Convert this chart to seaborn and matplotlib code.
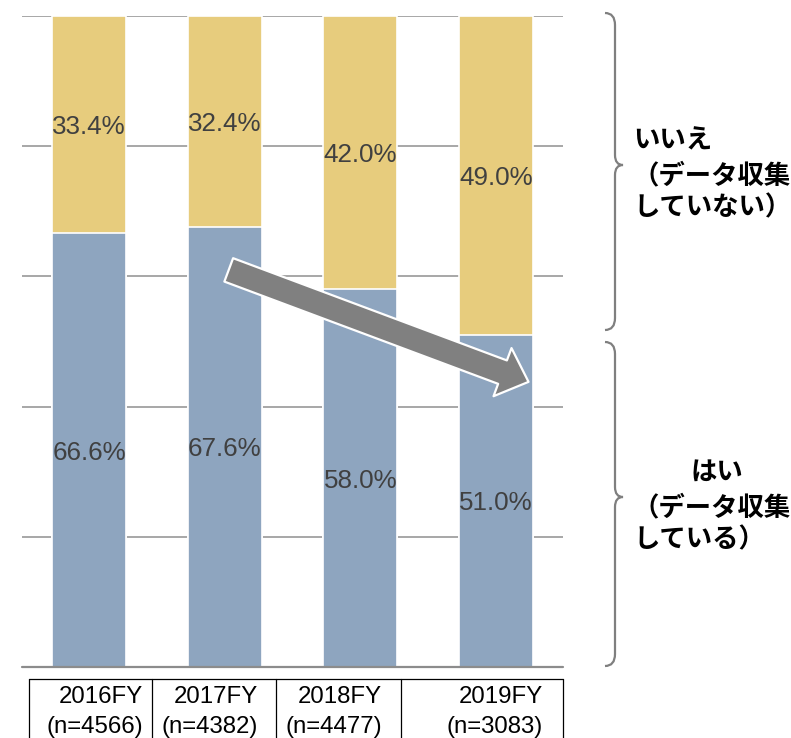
import matplotlib
matplotlib.use("Agg")
import matplotlib.pyplot as plt
from matplotlib.patches import FancyArrowPatch, PathPatch
from matplotlib.path import Path
from matplotlib.lines import Line2D
import seaborn as sns
import pandas as pd

# Survey results per fiscal year
categories = ["2016FY", "2017FY", "2018FY", "2019FY"]
sample_sizes = [4566, 4382, 4477, 3083]
yes_pct = [66.6, 67.6, 58.0, 51.0]   # collecting data
no_pct = [33.4, 32.4, 42.0, 49.0]    # not collecting data

yes_label = ["はい", "（データ収集", "している）"]
no_label = ["いいえ", "（データ収集", "していない）"]

# Trend arrow: (category index, percent) for tail and head
trend_from = (1.03, 61.0)
trend_to = (3.24, 43.8)

BLUE = "#8EA5BF"
YELLOW = "#E7CC7D"
TEXT = "#404040"
W, H = 791, 738

sns.set_theme(style="white")
plt.rcParams["font.family"] = ["Liberation Sans", "DejaVu Sans"]

df = pd.DataFrame({
    "year": categories,
    "yes": yes_pct,
    "total": [y + n for y, n in zip(yes_pct, no_pct)],
})

fig = plt.figure(figsize=(W / 100, H / 100), dpi=100)
ax = fig.add_axes([22 / W, 71 / H, 541 / W, 651 / H])

# Stacked bars: full height in yellow, the "yes" share in blue on top of it
sns.barplot(data=df, x="year", y="total", color=YELLOW, saturation=1,
            width=0.545, edgecolor="white", linewidth=1.2, ax=ax, zorder=2)
sns.barplot(data=df, x="year", y="yes", color=BLUE, saturation=1,
            width=0.545, edgecolor="white", linewidth=1.2, ax=ax, zorder=3)

ax.set_xlim(-0.494, 3.494)
ax.set_ylim(0, 100)
ax.set_yticks(range(0, 101, 20))
ax.yaxis.grid(True, color="#a0a0a0", linewidth=1.3)
ax.set_axisbelow(True)
ax.set_xticks([])
ax.set_yticklabels([])
ax.tick_params(left=False, bottom=False)
ax.set_xlabel("")
ax.set_ylabel("")
for s in ax.spines.values():
    s.set_visible(False)
ax.axhline(0, color="#8c8c8c", linewidth=1.6, zorder=4, clip_on=False)

# Percent labels centred in each segment
lab_kw = dict(ha="center", va="center_baseline", fontsize=18.7,
              color=TEXT, zorder=6)
for i, (y, n) in enumerate(zip(yes_pct, no_pct)):
    ax.text(i, y / 2, f"{y:.1f}%", **lab_kw)
    ax.text(i, y + n / 2, f"{n:.1f}%", **lab_kw)

# Downward trend arrow
arrow = FancyArrowPatch(
    posA=trend_from, posB=trend_to,
    arrowstyle="simple,head_length=20,head_width=37,tail_width=18",
    mutation_scale=1, shrinkA=0, shrinkB=0,
    facecolor="#808080", edgecolor="white", linewidth=1.6, zorder=5)
ax.add_patch(arrow)


def px(x, y):
    return (x / W, 1 - y / H)


# Category table under the bars
table_top, table_bot = 679, 745
col_edges = [29, 152, 276, 401, 563]
line_kw = dict(color="black", linewidth=0.9, transform=fig.transFigure,
               clip_on=False)
fig.add_artist(Line2D([col_edges[0] / W, col_edges[-1] / W],
                      [1 - table_top / H] * 2, **line_kw))
for xe in col_edges:
    fig.add_artist(Line2D([xe / W] * 2,
                          [1 - table_top / H, 1 - table_bot / H], **line_kw))

text_right = [143, 258, 382, 543]
for xr, cat, n in zip(text_right, categories, sample_sizes):
    fig.text(*px(xr, 697), cat, ha="right", va="center", fontsize=17.3,
             color="black")
    fig.text(*px(xr, 727), f"(n={n})", ha="right", va="center",
             fontsize=17.3, color="black")


# Curly braces beside the chart
def brace(x0, x1, xtip, ytop, ybot, ymid):
    r = 12
    verts = [
        (x0, ytop), (x1, ytop), (x1, ytop + r),
        (x1, ymid - 10),
        (x1, ymid), (xtip, ymid),
        (x1, ymid), (x1, ymid + 10),
        (x1, ybot - r),
        (x1, ybot), (x0, ybot),
    ]
    codes = [Path.MOVETO, Path.CURVE3, Path.CURVE3,
             Path.LINETO,
             Path.CURVE3, Path.CURVE3,
             Path.CURVE3, Path.CURVE3,
             Path.LINETO,
             Path.CURVE3, Path.CURVE3]
    verts = [px(x, y) for x, y in verts]
    patch = PathPatch(Path(verts, codes), facecolor="none",
                      edgecolor="#7f7f7f", linewidth=1.6,
                      transform=fig.transFigure)
    fig.add_artist(patch)


brace(605, 615, 623, 13, 330, 165)
brace(605, 615, 623, 342, 666, 497)

jp = dict(family=["Noto Sans CJK JP", "DejaVu Sans"], weight="bold",
          fontsize=19, color="black", va="center")
for txt, y in zip(no_label, [141, 176, 208]):
    fig.text(*px(633, y), txt, ha="left", **jp)
fig.text(*px(717, 472), yes_label[0], ha="center", **jp)
for txt, y in zip(yes_label[1:], [508, 540]):
    fig.text(*px(633, y), txt, ha="left", **jp)

fig.savefig("out.png", dpi=100)
